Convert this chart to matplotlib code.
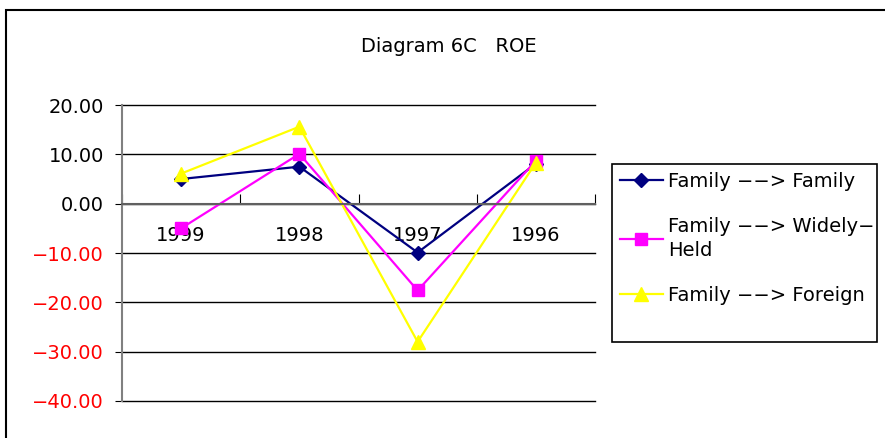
import matplotlib.pyplot as plt
import matplotlib.ticker as ticker
from matplotlib.patches import Rectangle

plt.rcParams['font.family'] = ['DejaVu Sans']

years = ['1999', '1998', '1997', '1996']
fam_fam = [5.0, 7.5, -9.9, 8.1]
fam_widely = [-5.0, 10.1, -17.6, 8.7]
fam_foreign = [6.1, 15.6, -28.0, 8.3]
labels = ['Family \u2212\u2212> Family', 'Family \u2212\u2212> Widely\u2212\nHeld',
          'Family \u2212\u2212> Foreign']

fig = plt.figure(figsize=(8.85, 4.38), dpi=100)
# outer chart frame (cut off at right / bottom like the original)
fig.patches.append(Rectangle((6 / 885, -0.05), 1.0, 1 - 10 / 438 + 0.05,
                             transform=fig.transFigure, fill=False,
                             edgecolor='black', linewidth=1.5))
# legend box
fig.patches.append(Rectangle((612 / 885, 1 - 342 / 438), 265 / 885, 178 / 438,
                             transform=fig.transFigure, fill=False,
                             edgecolor='black', linewidth=1.2))

ax = fig.add_axes([122 / 885, 37 / 438, (595 - 122) / 885, (401 - 105) / 438])
x = range(len(years))
l1, = ax.plot(x, fam_fam, color='#000080', marker='D', markersize=7, linewidth=1.6)
l2, = ax.plot(x, fam_widely, color='#FF00FF', marker='s', markersize=9, linewidth=1.6)
l3, = ax.plot(x, fam_foreign, color='#FFFF00', marker='^', markersize=10, linewidth=1.6)

ax.set_xlim(-0.5, 3.5)
ax.set_ylim(-40, 20)
ax.yaxis.set_major_locator(ticker.MultipleLocator(10))
ax.yaxis.set_major_formatter(ticker.FuncFormatter(
    lambda v, p: ('\u2212%.2f' % -v) if v < 0 else '%.2f' % v))
ax.grid(axis='y', color='black', linewidth=1)
ax.set_axisbelow(True)
for g in ax.get_ygridlines():
    g.set_clip_on(False)

for side in ['top', 'right']:
    ax.spines[side].set_visible(False)
ax.spines['left'].set_color('#808080')
ax.spines['left'].set_linewidth(1.5)
ax.spines['bottom'].set_position(('data', 0))
ax.spines['bottom'].set_color('#606060')
ax.spines['bottom'].set_linewidth(1.5)

# category ticks between years, labels at the centres
ax.xaxis.set_major_locator(ticker.FixedLocator([-0.5, 0.5, 1.5, 2.5, 3.5]))
ax.xaxis.set_major_formatter(ticker.NullFormatter())
ax.xaxis.set_minor_locator(ticker.FixedLocator(list(x)))
ax.xaxis.set_minor_formatter(ticker.FixedFormatter(years))
ax.tick_params(axis='x', which='major', direction='in', length=7, color='black')
ax.tick_params(axis='x', which='minor', length=0, labelsize=14, pad=16)
ax.tick_params(axis='y', direction='out', length=5, labelsize=14, pad=8)
for t in ax.get_yticklabels():
    if t.get_text().startswith('\u2212'):
        t.set_color('red')

fig.text(449 / 885, 1 - 46 / 438, 'Diagram 6C   ROE', ha='center', va='center', fontsize=14)

leg = fig.legend([l1, l2, l3], labels, loc='upper left',
                 bbox_to_anchor=(614 / 885, 1 - 166 / 438),
                 fontsize=14, frameon=False,
                 handlelength=2.2, handletextpad=0.3, labelspacing=1.35,
                 borderpad=0.3, borderaxespad=0)
for t in leg.get_texts():
    t.set_linespacing(1.3)

fig.savefig('out.png', dpi=100)
